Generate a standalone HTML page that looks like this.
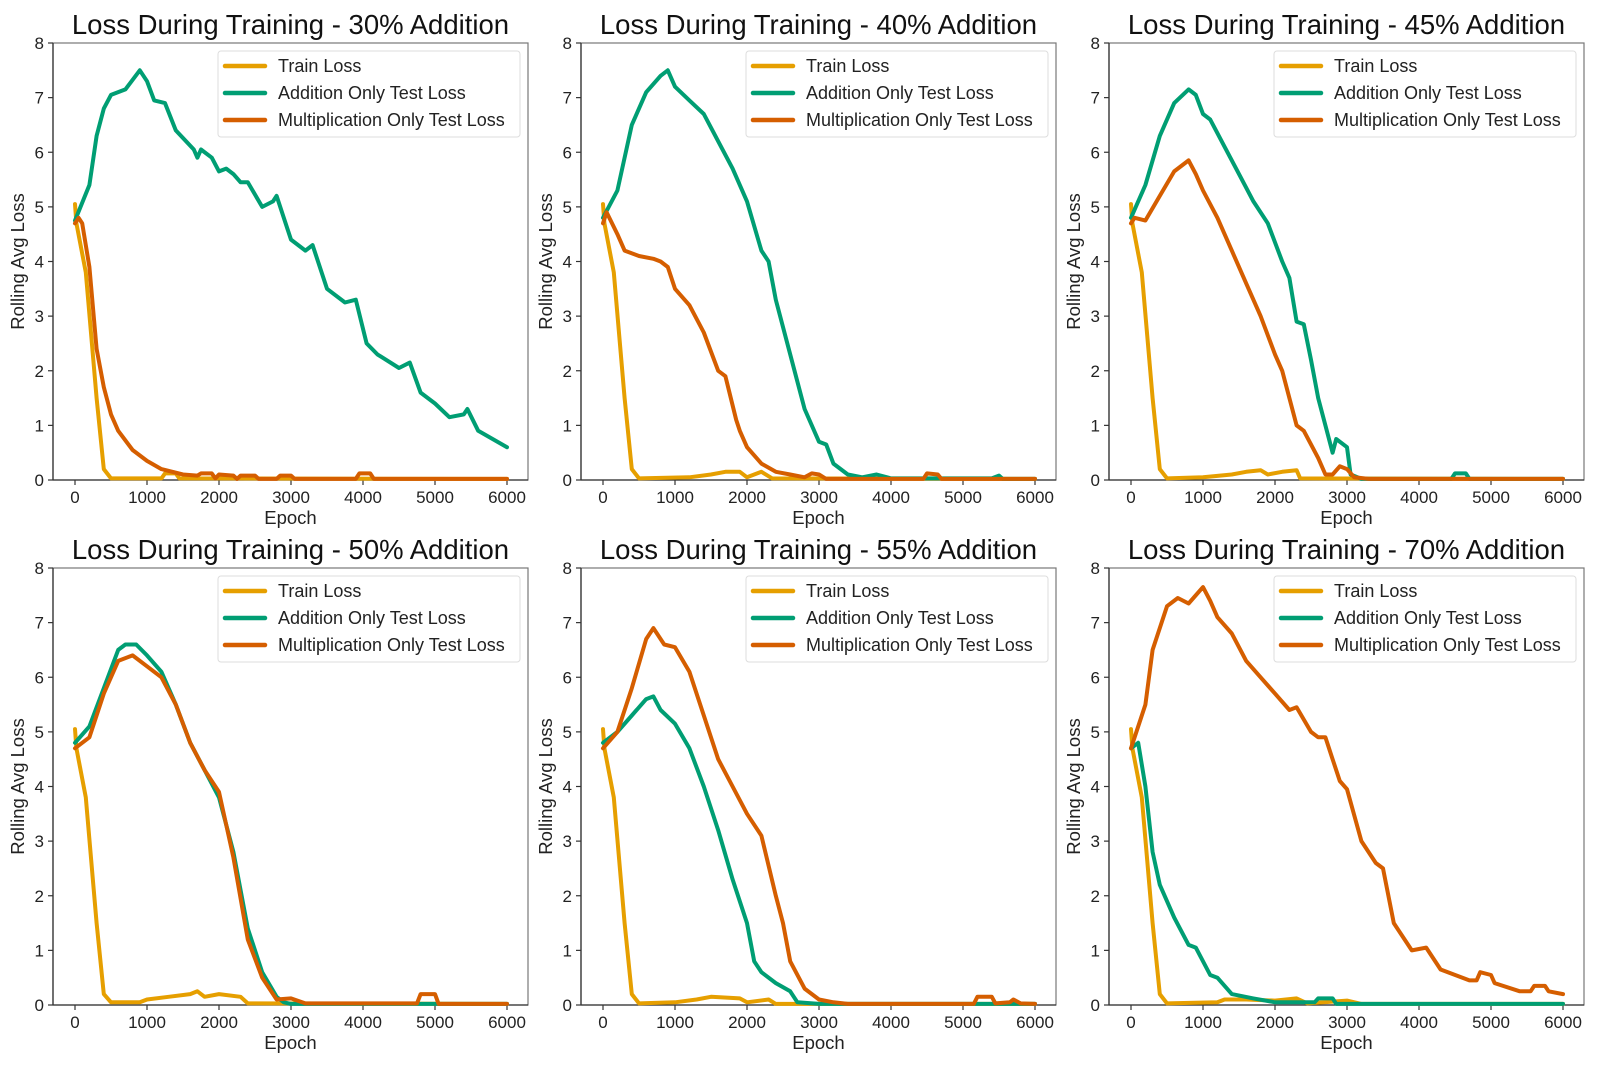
<!DOCTYPE html>
<html><head><meta charset="utf-8"><style>
html,body{margin:0;padding:0;background:#fff;}
svg{display:block;font-family:"Liberation Sans",Arial,sans-serif;}
</style></head><body>
<svg id="fig" width="1600" height="1066" viewBox="0 0 1600 1066" xmlns="http://www.w3.org/2000/svg"></svg>
<script>
const xTicks = [0,1000,2000,3000,4000,5000,6000];
const yTicks = [0,1,2,3,4,5,6,7,8];
const panelTitles = ["30%","40%","45%","50%","55%","70%"];
const seriesNames = ["Train Loss","Addition Only Test Loss","Multiplication Only Test Loss"];

const train30 = [[0,5.05],[20,4.7],[150,3.8],[300,1.5],[400,0.2],[500,0.03],[1200,0.03],[1250,0.12],[1400,0.12],[1450,0.03],[6000,0.02]];
const add30 = [[0,4.75],[200,5.4],[300,6.3],[400,6.8],[500,7.05],[700,7.15],[900,7.5],[1000,7.3],[1100,6.95],[1250,6.9],[1400,6.4],[1650,6.05],[1700,5.9],[1750,6.05],[1900,5.9],[2000,5.65],[2100,5.7],[2200,5.6],[2300,5.45],[2400,5.45],[2600,5.0],[2750,5.1],[2800,5.2],[2950,4.6],[3000,4.4],[3200,4.2],[3300,4.3],[3500,3.5],[3750,3.25],[3900,3.3],[4050,2.5],[4200,2.3],[4500,2.05],[4650,2.15],[4800,1.6],[5000,1.4],[5200,1.15],[5400,1.2],[5450,1.3],[5600,0.9],[6000,0.6]];
const mult30 = [[0,4.7],[50,4.8],[100,4.7],[200,3.9],[300,2.4],[400,1.7],[500,1.2],[600,0.9],[800,0.55],[1000,0.35],[1200,0.2],[1500,0.1],[1700,0.08],[1750,0.12],[1900,0.12],[1950,0.03],[2000,0.1],[2200,0.08],[2250,0.02],[2300,0.08],[2500,0.08],[2550,0.02],[2800,0.02],[2850,0.08],[3000,0.08],[3050,0.02],[3900,0.02],[3950,0.12],[4100,0.12],[4150,0.02],[6000,0.02]];

const train40 = [[0,5.05],[20,4.7],[150,3.8],[300,1.5],[400,0.2],[500,0.03],[1200,0.05],[1500,0.1],[1700,0.15],[1900,0.15],[2000,0.05],[2200,0.15],[2350,0.03],[6000,0.02]];
const add40 = [[0,4.8],[200,5.3],[400,6.5],[600,7.1],[800,7.4],[900,7.5],[1000,7.2],[1200,6.95],[1400,6.7],[1600,6.2],[1800,5.7],[2000,5.1],[2200,4.2],[2300,4.0],[2400,3.3],[2600,2.3],[2800,1.3],[3000,0.7],[3100,0.65],[3200,0.3],[3400,0.1],[3600,0.05],[3800,0.1],[4000,0.03],[5400,0.03],[5500,0.08],[5550,0.02],[6000,0.02]];
const mult40 = [[0,4.7],[50,4.9],[200,4.5],[300,4.2],[500,4.1],[700,4.05],[800,4.0],[900,3.9],[1000,3.5],[1200,3.2],[1400,2.7],[1600,2.0],[1700,1.9],[1850,1.1],[1900,0.9],[2000,0.6],[2200,0.3],[2400,0.15],[2600,0.1],[2800,0.05],[2900,0.12],[3000,0.1],[3100,0.02],[4450,0.02],[4500,0.12],[4650,0.1],[4700,0.02],[6000,0.02]];

const train45 = [[0,5.05],[20,4.7],[150,3.8],[300,1.5],[400,0.2],[500,0.03],[1000,0.05],[1400,0.1],[1600,0.15],[1800,0.18],[1900,0.1],[2100,0.15],[2300,0.18],[2350,0.03],[6000,0.02]];
const add45 = [[0,4.8],[200,5.4],[400,6.3],[600,6.9],[800,7.15],[900,7.05],[1000,6.7],[1100,6.6],[1300,6.1],[1500,5.6],[1700,5.1],[1900,4.7],[2100,4.0],[2200,3.7],[2300,2.9],[2400,2.85],[2500,2.2],[2600,1.5],[2700,1.0],[2800,0.5],[2850,0.75],[3000,0.6],[3050,0.1],[3200,0.02],[4450,0.02],[4500,0.12],[4650,0.12],[4700,0.02],[6000,0.02]];
const mult45 = [[0,4.7],[50,4.8],[200,4.75],[400,5.2],[600,5.65],[800,5.85],[900,5.6],[1000,5.3],[1200,4.8],[1400,4.2],[1600,3.6],[1800,3.0],[2000,2.3],[2100,2.0],[2200,1.5],[2300,1.0],[2400,0.9],[2600,0.4],[2700,0.1],[2800,0.1],[2900,0.25],[3000,0.2],[3100,0.05],[3300,0.02],[6000,0.02]];

const train50 = [[0,5.05],[20,4.7],[150,3.8],[300,1.5],[400,0.2],[500,0.05],[900,0.05],[1000,0.1],[1300,0.15],[1600,0.2],[1700,0.25],[1800,0.15],[2000,0.2],[2300,0.15],[2400,0.03],[6000,0.02]];
const add50 = [[0,4.8],[200,5.1],[400,5.8],[600,6.5],[700,6.6],[850,6.6],[1000,6.4],[1200,6.1],[1400,5.5],[1600,4.8],[1800,4.3],[2000,3.8],[2200,2.8],[2400,1.4],[2600,0.6],[2800,0.15],[2900,0.05],[3000,0.02],[6000,0.02]];
const mult50 = [[0,4.7],[200,4.9],[400,5.7],[600,6.3],[800,6.4],[1000,6.2],[1200,6.0],[1400,5.5],[1600,4.8],[1800,4.3],[2000,3.9],[2200,2.7],[2400,1.2],[2600,0.5],[2800,0.1],[3000,0.12],[3200,0.03],[4750,0.03],[4800,0.2],[5000,0.2],[5050,0.02],[6000,0.02]];

const train55 = [[0,5.05],[20,4.7],[150,3.8],[300,1.5],[400,0.2],[500,0.03],[1000,0.05],[1300,0.1],[1500,0.15],[1900,0.12],[2000,0.05],[2300,0.1],[2400,0.02],[6000,0.02]];
const add55 = [[0,4.8],[200,5.0],[400,5.3],[600,5.6],[700,5.65],[800,5.4],[1000,5.15],[1200,4.7],[1400,4.0],[1600,3.2],[1800,2.3],[2000,1.5],[2100,0.8],[2200,0.6],[2400,0.4],[2600,0.25],[2700,0.05],[3000,0.02],[6000,0.02]];
const mult55 = [[0,4.7],[200,5.0],[400,5.8],[600,6.7],[700,6.9],[850,6.6],[1000,6.55],[1200,6.1],[1400,5.3],[1600,4.5],[1800,4.0],[2000,3.5],[2200,3.1],[2400,2.0],[2500,1.5],[2600,0.8],[2800,0.3],[3000,0.1],[3200,0.05],[3400,0.02],[5150,0.02],[5200,0.15],[5400,0.15],[5450,0.03],[5650,0.05],[5700,0.1],[5800,0.03],[6000,0.02]];

const train70 = [[0,5.05],[20,4.7],[150,3.8],[300,1.5],[400,0.2],[500,0.03],[1200,0.05],[1300,0.1],[1600,0.1],[2000,0.08],[2300,0.12],[2450,0.03],[3000,0.08],[3200,0.02],[6000,0.02]];
const add70 = [[0,4.7],[100,4.8],[200,4.0],[300,2.8],[400,2.2],[600,1.6],[800,1.1],[900,1.05],[1100,0.55],[1200,0.5],[1400,0.2],[1700,0.12],[2000,0.05],[2550,0.05],[2600,0.12],[2800,0.12],[2850,0.02],[6000,0.02]];
const mult70 = [[0,4.7],[200,5.5],[300,6.5],[500,7.3],[650,7.45],[800,7.35],[1000,7.65],[1100,7.4],[1200,7.1],[1400,6.8],[1600,6.3],[1800,6.0],[2000,5.7],[2200,5.4],[2300,5.45],[2500,5.0],[2600,4.9],[2700,4.9],[2800,4.5],[2900,4.1],[3000,3.95],[3200,3.0],[3400,2.6],[3500,2.5],[3650,1.5],[3900,1.0],[4100,1.05],[4300,0.65],[4700,0.45],[4800,0.45],[4850,0.6],[5000,0.55],[5050,0.4],[5400,0.25],[5550,0.25],[5600,0.35],[5750,0.35],[5800,0.25],[6000,0.2]];

const panelSeries = [
  [train30, add30, mult30],[train40, add40, mult40],[train45, add45, mult45],
  [train50, add50, mult50],[train55, add55, mult55],[train70, add70, mult70]
];
const colors = ["#E69F00","#009E73","#D55E00"];
const NS = "http://www.w3.org/2000/svg";
const svg = document.getElementById('fig');
function mk(tag, attrs, parent){ const e=document.createElementNS(NS,tag); for(const k in attrs) e.setAttribute(k,attrs[k]); (parent||svg).appendChild(e); return e; }

const colX0 = [75, 603, 1131];
const rowY0 = [480, 1005];
const pw = 432, ph = 437;

panelTitles.forEach((t, idx) => {
  const r = Math.floor(idx/3), c = idx%3;
  const x0 = colX0[c], y0 = rowY0[r];
  const xs = v => x0 + v/6000*pw;
  const ys = v => y0 - v/8*ph;
  const boxL = x0-22, boxR = x0+pw+21, boxT = y0-ph;
  const g = mk('g', {});
  
  
  const tt = mk('text', {x:(boxL+boxR)/2, y:boxT-9, 'text-anchor':'middle', 'font-size':27.5, fill:'#111'}, g);
  tt.textContent = 'Loss During Training - ' + t + ' Addition';
  
  
  const fr = mk('rect', {x:boxL, y:boxT, width:boxR-boxL, height:ph, fill:'none', stroke:'#777', 'stroke-width':1.2}, g);
  
  
  mk('line', {x1:boxL, y1:boxT, x2:boxL, y2:y0, stroke:'#333', 'stroke-width':1.3}, g);
  mk('line', {x1:boxL, y1:y0, x2:boxR, y2:y0, stroke:'#333', 'stroke-width':1.3}, g);
  xTicks.forEach(v => {
    mk('line', {x1:xs(v), y1:y0, x2:xs(v), y2:y0+5, stroke:'#333', 'stroke-width':1.2}, g);
    const tl = mk('text', {x:xs(v), y:y0+23, 'text-anchor':'middle', 'font-size':17, fill:'#222'}, g);
    tl.textContent = v;
    
    
  });
  yTicks.forEach(v => {
    mk('line', {x1:boxL-5, y1:ys(v), x2:boxL, y2:ys(v), stroke:'#333', 'stroke-width':1.2}, g);
    const tl = mk('text', {x:boxL-9, y:ys(v)+6, 'text-anchor':'end', 'font-size':17, fill:'#222'}, g);
    tl.textContent = v;
    
    
  });
  const xl = mk('text', {x:(boxL+boxR)/2, y:y0+44, 'text-anchor':'middle', 'font-size':18.5, fill:'#222'}, g);
  xl.textContent = 'Epoch';
  
  
  const yx = boxL-29, yy = boxT+ph/2;
  const yl = mk('text', {x:yx, y:yy, 'text-anchor':'middle', 'font-size':18.5, fill:'#222', transform:'rotate(-90 '+yx+' '+yy+')'}, g);
  yl.textContent = 'Rolling Avg Loss';
  
  
  panelSeries[idx].forEach((data, si) => {
    const pts = data.map(p => xs(p[0]).toFixed(1)+','+ys(p[1]).toFixed(1)).join(' ');
    const pl = mk('polyline', {points:pts, fill:'none', stroke:colors[si], 'stroke-width':4, 'stroke-linejoin':'round', 'stroke-linecap':'round'}, g);
    
    
  });
  const lx = boxR-310, ly = boxT+8;
  const lg = mk('g', {}, g);
  
  
  mk('rect', {x:lx, y:ly, width:302, height:86, rx:3, fill:'#fff', 'fill-opacity':0.85, stroke:'#ddd', 'stroke-width':1}, lg);
  seriesNames.forEach((n, si) => {
    const ey = ly + 15 + si*27;
    mk('line', {x1:lx+7, y1:ey, x2:lx+47, y2:ey, stroke:colors[si], 'stroke-width':4.5, 'stroke-linecap':'round'}, lg);
    const et = mk('text', {x:lx+60, y:ey+6, 'font-size':18, fill:'#222'}, lg);
    et.textContent = n;
    
    
  });
});
</script>
</body></html>
